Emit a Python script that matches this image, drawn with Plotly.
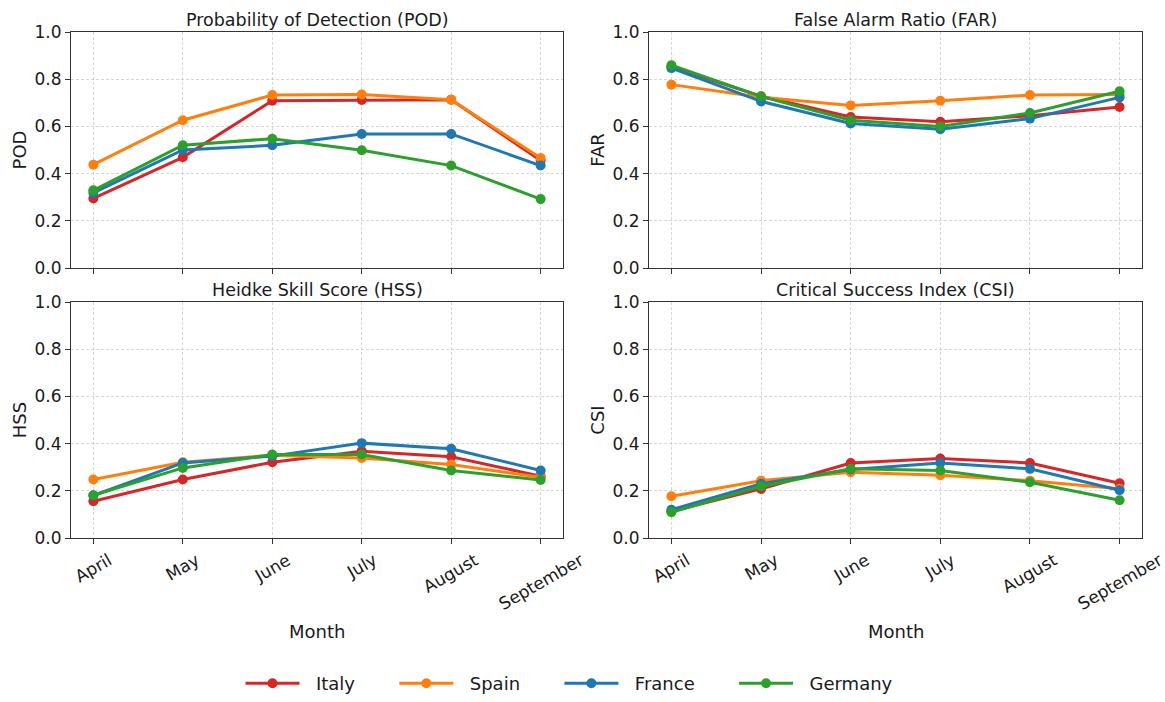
import plotly.graph_objects as go

months = ["April", "May", "June", "July", "August", "September"]
countries = ["Italy", "Spain", "France", "Germany"]
colors = ["#d62728", "#ff7f0e", "#1f77b4", "#2ca02c"]
yticks = [0.0, 0.2, 0.4, 0.6, 0.8, 1.0]

pod_italy = [0.295, 0.469, 0.709, 0.712, 0.713, 0.455]
pod_spain = [0.438, 0.626, 0.733, 0.735, 0.713, 0.466]
pod_france = [0.318, 0.500, 0.520, 0.568, 0.568, 0.434]
pod_germany = [0.329, 0.520, 0.548, 0.499, 0.434, 0.292]

far_italy = [0.852, 0.728, 0.640, 0.620, 0.645, 0.682]
far_spain = [0.777, 0.724, 0.689, 0.709, 0.733, 0.735]
far_france = [0.847, 0.706, 0.612, 0.588, 0.633, 0.723]
far_germany = [0.859, 0.727, 0.626, 0.600, 0.657, 0.749]

hss_italy = [0.156, 0.248, 0.321, 0.368, 0.344, 0.262]
hss_spain = [0.248, 0.321, 0.351, 0.339, 0.311, 0.257]
hss_france = [0.180, 0.318, 0.347, 0.402, 0.378, 0.286]
hss_germany = [0.181, 0.297, 0.354, 0.354, 0.286, 0.246]

csi_italy = [0.113, 0.208, 0.318, 0.337, 0.318, 0.232]
csi_spain = [0.177, 0.243, 0.279, 0.266, 0.243, 0.209]
csi_france = [0.120, 0.230, 0.290, 0.318, 0.293, 0.202]
csi_germany = [0.109, 0.219, 0.293, 0.286, 0.236, 0.160]

panels = [
    ("Probability of Detection (POD)", "POD", [pod_italy, pod_spain, pod_france, pod_germany]),
    ("False Alarm Ratio (FAR)", "FAR", [far_italy, far_spain, far_france, far_germany]),
    ("Heidke Skill Score (HSS)", "HSS", [hss_italy, hss_spain, hss_france, hss_germany]),
    ("Critical Success Index (CSI)", "CSI", [csi_italy, csi_spain, csi_france, csi_germany]),
]

W, H = 1165, 702
xdoms = [[71 / W, 563 / W], [649 / W, 1142 / W]]
ydoms = [[1 - 268 / H, 1 - 32 / H], [1 - 538 / H, 1 - 302 / H]]

FONT = "DejaVu Sans"
TXT = "#1a1a1a"
AX = "#333333"
GRID = "rgba(176,176,176,0.5)"
NB = "\u00a0"

fig = go.Figure()
annotations = []
layout = dict(
    width=W, height=H,
    margin=dict(l=0, r=0, t=0, b=0),
    paper_bgcolor="white", plot_bgcolor="white",
    font=dict(family=FONT, size=17, color=TXT),
    showlegend=True,
    legend=dict(orientation="h", x=569.5 / W, xanchor="center", y=0, yanchor="bottom",
                font=dict(size=18, family=FONT, color=TXT), itemwidth=54,
                tracegroupgap=0),
)

for i, (title, ylab, series) in enumerate(panels):
    row, col = divmod(i, 2)
    n = i + 1
    xa = "x" if n == 1 else f"x{n}"
    ya = "y" if n == 1 else f"y{n}"
    xkey = "xaxis" if n == 1 else f"xaxis{n}"
    ykey = "yaxis" if n == 1 else f"yaxis{n}"
    for c, (name, vals) in enumerate(zip(countries, series)):
        label = NB * 2 + name + (NB * 6 if c < len(countries) - 1 else "")
        fig.add_trace(go.Scatter(
            x=list(range(len(months))), y=vals, mode="lines+markers", name=label,
            line=dict(color=colors[c], width=3),
            marker=dict(color=colors[c], size=10),
            xaxis=xa, yaxis=ya, showlegend=(i == 0), legendgroup=name,
        ))
    layout[xkey] = dict(
        domain=xdoms[col], anchor=ya, range=[-0.25, 5.25],
        tickmode="array", tickvals=list(range(len(months))), ticktext=months,
        showticklabels=False,
        ticks="outside", ticklen=5, tickwidth=1, tickcolor=AX,
        showline=True, linecolor=AX, linewidth=1, mirror=True,
        showgrid=True, gridcolor=GRID, gridwidth=0.8, griddash="3px,2px",
        zeroline=False, automargin=False,
    )
    layout[ykey] = dict(
        domain=ydoms[row], anchor=xa, range=[0, 1],
        tickmode="array", tickvals=yticks,
        ticktext=[f"{v:.1f}" for v in yticks],
        ticks="outside", ticklen=5, tickwidth=1, tickcolor=AX,
        showline=True, linecolor=AX, linewidth=1, mirror=True,
        showgrid=True, gridcolor=GRID, gridwidth=0.8, griddash="3px,2px",
        zeroline=False, tickfont=dict(size=17, family=FONT, color=TXT),
        title=dict(text=ylab, font=dict(size=18, family=FONT, color=TXT), standoff=3),
        automargin=False,
    )
    annotations.append(dict(
        text=title, xref="paper", yref="paper",
        x=(xdoms[col][0] + xdoms[col][1]) / 2, y=ydoms[row][1],
        xanchor="center", yanchor="bottom", yshift=0, showarrow=False,
        font=dict(size=17.5, family=FONT, color=TXT),
    ))
    if row == 1:
        # rotated month labels, centred under each tick (matplotlib style)
        for k, m in enumerate(months):
            annotations.append(dict(
                text=m, xref=xa, yref="paper", x=k, y=ydoms[row][0],
                xanchor="center", yanchor="top", yshift=-9, textangle=-30,
                showarrow=False, font=dict(size=17, family=FONT, color=TXT),
            ))
        annotations.append(dict(
            text="Month", xref="paper", yref="paper",
            x=(xdoms[col][0] + xdoms[col][1]) / 2, y=1 - 631 / H,
            xanchor="center", yanchor="middle", showarrow=False,
            font=dict(size=18, family=FONT, color=TXT),
        ))

layout["annotations"] = annotations
fig.update_layout(**layout)
fig.write_html("out.html")
